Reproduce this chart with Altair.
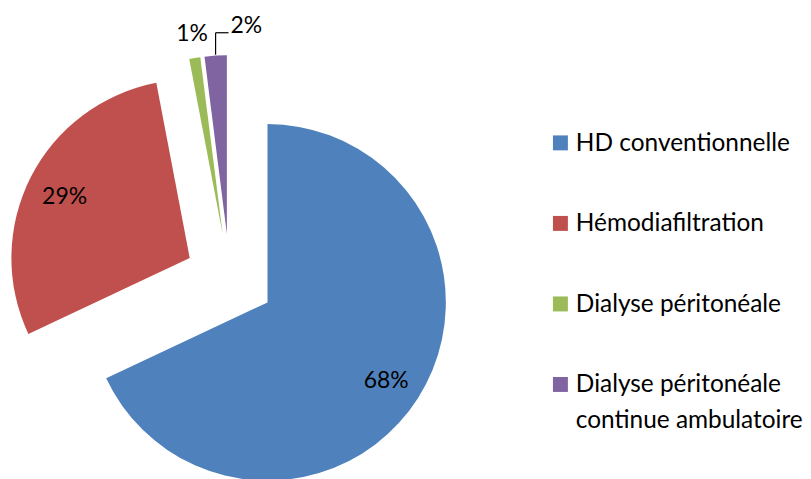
import math
import altair as alt
import pandas as pd

# ---- data ----
categories = [
    "HD conventionnelle",
    "Hémodiafiltration",
    "Dialyse péritonéale",
    "Dialyse péritonéale continue ambulatoire",
]
values = [68, 29, 1, 2]
colors = ["#4F81BD", "#C0504D", "#9BBB59", "#8064A2"]

# ---- layout / style constants ----
FONT = "Lato"
FS = 23
FS_LEG = 24.5
W1, H = 540, 463          # pie panel
W2 = 255                  # legend panel
CX, CY = 222.5, 270.5     # pie centre inside the pie panel (pixels)
R = 179                   # pie radius
EXPLODE = 45              # explosion distance
LR_IN = 141               # inside label radius
LR_OUT = 196              # outside label radius
LEAD_UP, LEAD_RIGHT = 22, 13

df = pd.DataFrame({"cat": categories, "value": values, "order": list(range(len(values)))})

xs = alt.Scale(domain=[-CX, W1 - CX], nice=False, zero=False)
ys = alt.Scale(domain=[CY - H, CY], nice=False, zero=False)
cs = alt.Scale(domain=categories, range=colors)

base = (
    alt.Chart(df)
    .transform_window(cum="sum(value)", sort=[alt.SortField("order")], frame=[None, 0])
    .transform_joinaggregate(total="sum(value)")
    .transform_calculate(
        start="(datum.cum - datum.value) / datum.total",
        end="datum.cum / datum.total",
        mid="2 * PI * (datum.cum - datum.value / 2) / datum.total",
    )
    .transform_calculate(
        ex=f"{EXPLODE} * sin(datum.mid)",
        ey=f"{EXPLODE} * cos(datum.mid)",
        pct="format(datum.value / datum.total, '.0%')",
    )
)

arcs = base.mark_arc(outerRadius=R, innerRadius=0).encode(
    theta=alt.Theta("start:Q", scale=alt.Scale(domain=[0, 1], range=[0, 2 * math.pi]), stack=None),
    theta2="end:Q",
    x=alt.X("ex:Q", scale=xs, axis=None),
    y=alt.Y("ey:Q", scale=ys, axis=None),
    color=alt.Color("cat:N", scale=cs, legend=None),
)

inner_labels = (
    base.transform_filter("datum.value / datum.total >= 0.05")
    .transform_calculate(
        lx=f"datum.ex + {LR_IN} * sin(datum.mid)",
        ly=f"datum.ey + {LR_IN} * cos(datum.mid)",
    )
    .mark_text(font=FONT, fontSize=FS, color="black", align="center", baseline="middle", dy=3)
    .encode(x=alt.X("lx:Q", scale=xs, axis=None), y=alt.Y("ly:Q", scale=ys, axis=None), text="pct:N")
)

green_label = (
    base.transform_filter(alt.datum.order == 2)
    .transform_calculate(
        lx=f"datum.ex + {LR_OUT} * sin(datum.mid)",
        ly=f"datum.ey + {LR_OUT} * cos(datum.mid)",
    )
    .mark_text(font=FONT, fontSize=FS, color="black", align="center", baseline="alphabetic")
    .encode(x=alt.X("lx:Q", scale=xs, axis=None), y=alt.Y("ly:Q", scale=ys, axis=None), text="pct:N")
)

purple = base.transform_filter(alt.datum.order == 3).transform_calculate(
    px=f"datum.ex + {R + 1} * sin(datum.mid)",
    py=f"datum.ey + {R + 1} * cos(datum.mid)",
).transform_calculate(
    py2=f"datum.py + {LEAD_UP}",
    px2=f"datum.px + {LEAD_RIGHT}",
)

lead_v = purple.mark_rule(color="black", strokeWidth=1.2).encode(
    x=alt.X("px:Q", scale=xs, axis=None),
    y=alt.Y("py:Q", scale=ys, axis=None),
    y2="py2:Q",
)
lead_h = purple.mark_rule(color="black", strokeWidth=1.2).encode(
    x=alt.X("px:Q", scale=xs, axis=None),
    x2="px2:Q",
    y=alt.Y("py2:Q", scale=ys, axis=None),
)
purple_label = purple.mark_text(
    font=FONT, fontSize=FS, color="black", align="left", baseline="alphabetic", dx=2
).encode(
    x=alt.X("px2:Q", scale=xs, axis=None),
    y=alt.Y("py2:Q", scale=ys, axis=None),
    text="pct:N",
)

pie = alt.layer(arcs, inner_labels, green_label, lead_v, lead_h, purple_label).properties(
    width=W1, height=H
)

# ---- legend panel ----
leg_base = alt.Chart(pd.DataFrame({"cat": categories})).transform_calculate(
    label="replace(datum.cat, ' continue', '\\ncontinue')"
)
ly = alt.Y(
    "cat:N",
    scale=alt.Scale(domain=categories, range=[134.5, 377], padding=0),
    axis=None,
)
leg_sq = leg_base.mark_square(size=225, opacity=1, filled=True).encode(
    x=alt.value(14.5), y=ly, color=alt.Color("cat:N", scale=cs, legend=None)
)
leg_txt = leg_base.mark_text(
    font=FONT, fontSize=FS_LEG, color="black", align="left", baseline="alphabetic",
    dy=8, lineBreak="\n", lineHeight=36,
).encode(x=alt.value(30), y=ly, text="label:N")
legend = alt.layer(leg_sq, leg_txt).properties(width=W2, height=H)

chart = (
    alt.hconcat(pie, legend, spacing=0)
    .properties(padding=0)
    .configure_view(stroke=None)
)

chart.save("out.html", embed_options={"renderer": "svg", "actions": False})
